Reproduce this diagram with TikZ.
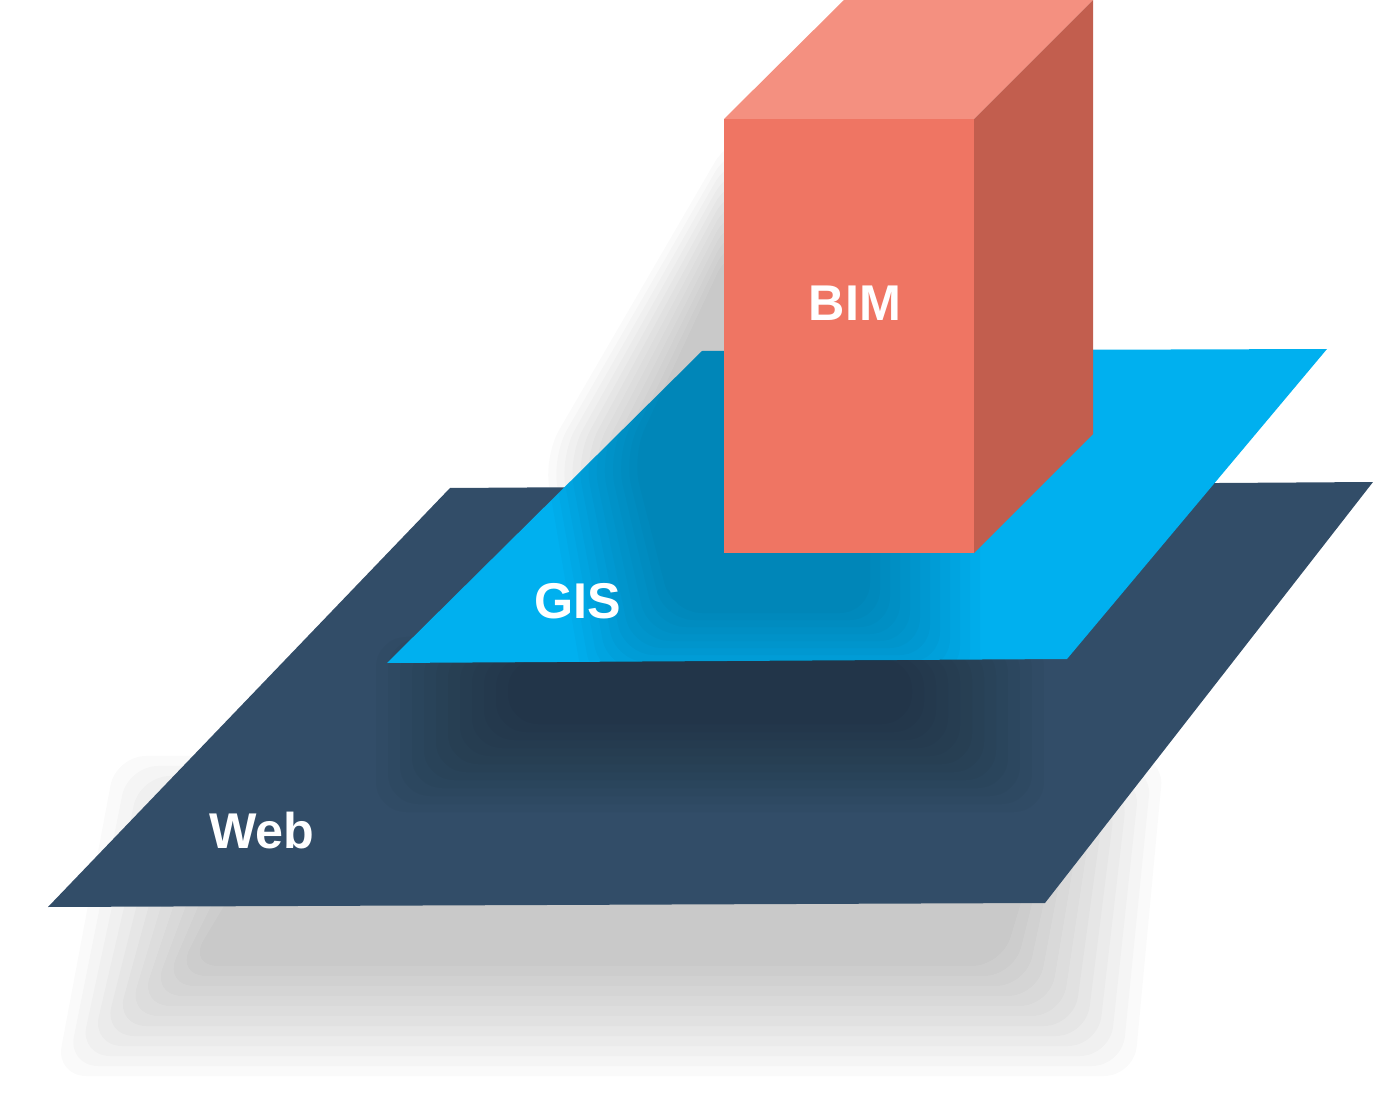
\documentclass[tikz,border=0pt]{standalone}
\usepackage{fontspec}
\setmainfont{Liberation Sans}
\definecolor{webblue}{RGB}{50,77,104}
\definecolor{gisblue}{RGB}{0,176,239}
\definecolor{bimfront}{RGB}{239,117,99}
\definecolor{bimtop}{RGB}{244,144,128}
\definecolor{bimside}{RGB}{194,94,78}

\begin{document}
\begin{tikzpicture}[
  layername/.style={text=white,font=\fontsize{14.3}{16}\selectfont\bfseries,inner sep=0pt},
  softlayer/.style={fill=black,fill opacity=#1,rounded corners=3mm},
  softlayer/.default=0.02]
\useasboundingbox (0,0) rectangle (13.73,11.16);
\coordinate (w1) at (0.48,2.09);
\coordinate (w2) at (10.45,2.13);
\coordinate (w3) at (13.73,6.34);
\coordinate (w4) at (4.50,6.28);
\coordinate (g1) at (3.87,4.53);
\coordinate (g2) at (10.67,4.57);
\coordinate (g3) at (13.27,7.67);
\coordinate (g4) at (7.02,7.65);
\coordinate (b1) at (7.24,5.63);
\coordinate (b2) at (9.74,5.63);
\coordinate (b3) at (9.74,9.97);
\coordinate (b4) at (7.24,9.97);
\coordinate (b5) at (8.44,11.16);
\coordinate (b6) at (10.93,11.16);
\coordinate (b7) at (10.93,6.82);
% shadow below the web plane
\foreach \k in {1,...,12}
  \fill[softlayer] (2.0-\k*0.12,1.6-\k*0.1) -- (9.9+\k*0.12,1.6-\k*0.1)
    -- (10.2+\k*0.12,2.4+\k*0.1) -- (2.6-\k*0.12,2.4+\k*0.1) -- cycle;
\fill[webblue] (w1) -- (w2) -- (w3) -- (w4) -- cycle;
\begin{scope}
  \clip (w1) -- (w2) -- (w3) -- (w4) -- cycle;
  \foreach \k in {1,...,12}
    \fill[softlayer=0.025] (5.2-\k*0.12,4.0-\k*0.08) rectangle (9.0+\k*0.12,4.55+\k*0.02);
\end{scope}
\fill[gisblue] (g1) -- (g2) -- (g3) -- (g4) -- cycle;
% shadow of the box, on the white and on the gis plane
\begin{scope}
  \clip (0,11.16) -- (13.73,11.16) -- (w3) -- (intersection of g2--g3 and w4--w3)
    -- (g2) -- (g1) -- (intersection of g1--g4 and w4--w3) -- (w4) -- (0,6.28) -- cycle;
  \foreach \k in {1,...,12}
    \fill[softlayer] (6.8-\k*0.08,5.1-\k*0.07) -- (8.6+\k*0.1,5.1-\k*0.07)
      -- (8.6+\k*0.1,8.6+\k*0.1) -- (7.3,8.6+\k*0.1) -- (6.4-\k*0.08,6.6) -- cycle;
\end{scope}
\fill[bimfront] (b1) -- (b2) -- (b3) -- (b4) -- cycle;
\fill[bimtop] (b4) -- (b3) -- (b6) -- (b5) -- cycle;
\fill[bimside] (b2) -- (b7) -- (b6) -- (b3) -- cycle;
\node[layername] (bim) at (8.55,8.13) {BIM};
\node[layername] (gis) at (5.78,5.15) {GIS};
\node[layername] (web) at (2.62,2.85) {Web};
\end{tikzpicture}
\end{document}
